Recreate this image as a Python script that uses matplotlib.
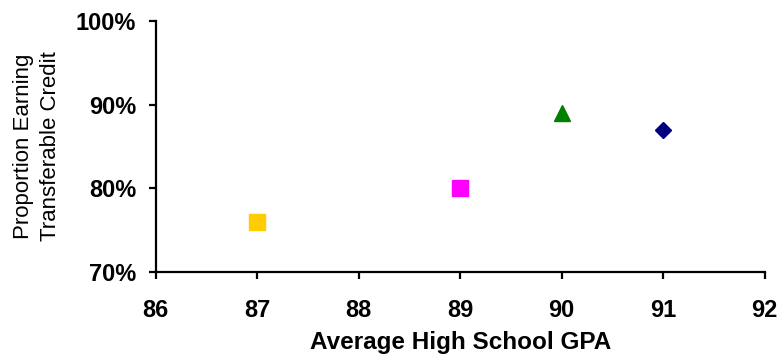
import matplotlib.pyplot as plt
from matplotlib.ticker import PercentFormatter

# data
gpa = [87, 89, 90, 91]
earning = [76, 80, 89, 87]
markers = ['s', 's', '^', 'D']
colors = ['#FFCC00', '#FF00FF', '#008000', '#000080']
sizes = [12, 11, 11.5, 8.5]

plt.rcParams['font.family'] = ['Liberation Sans', 'DejaVu Sans']

fig = plt.figure(figsize=(7.78, 3.6), dpi=100)
ax = fig.add_axes([0.2, 0.244, 0.783, 0.698])

for x, y, m, c, s in zip(gpa, earning, markers, colors, sizes):
    ax.plot(x, y, marker=m, color=c, markersize=s, linestyle='none',
            clip_on=False)

ax.set_xlim(86, 92)
ax.set_ylim(70, 100)
ax.set_xticks(range(86, 93))
ax.set_yticks([70, 80, 90, 100])
ax.yaxis.set_major_formatter(PercentFormatter(decimals=0))

for side in ['top', 'right']:
    ax.spines[side].set_visible(False)
for side in ['left', 'bottom']:
    ax.spines[side].set_linewidth(1.6)

ax.tick_params(direction='out', length=5, width=1.6, labelsize=17, pad=9)
ax.tick_params(axis='x', pad=14)
for lbl in ax.get_xticklabels() + ax.get_yticklabels():
    lbl.set_fontweight('bold')

ax.set_xlabel('Average High School GPA', fontsize=17.5, fontweight='bold',
              labelpad=7)
ax.set_ylabel('Proportion Earning\nTransferable Credit', fontsize=16,
              labelpad=11, linespacing=1.35)

fig.savefig('out.png', dpi=100)
